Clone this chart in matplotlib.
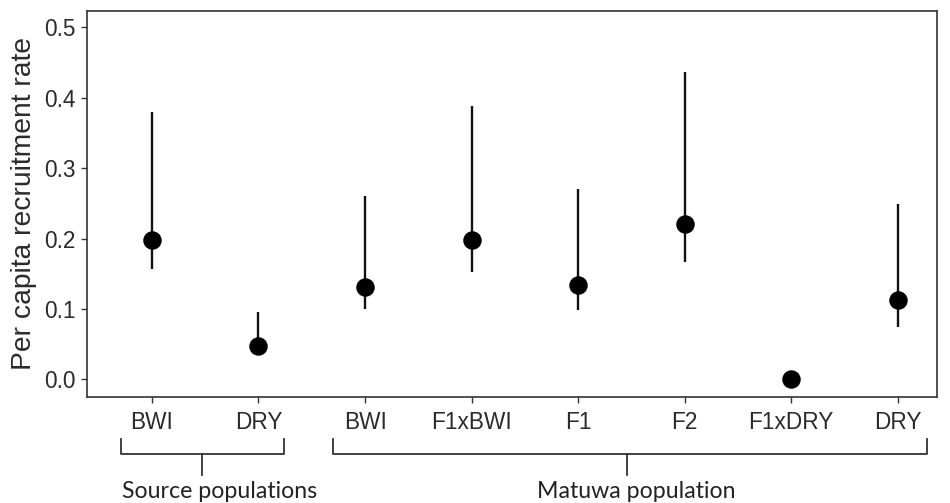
import matplotlib
matplotlib.use("Agg")
import matplotlib.pyplot as plt
from matplotlib.transforms import blended_transform_factory

categories = ["BWI", "DRY", "BWI", "F1xBWI", "F1", "F2", "F1xDRY", "DRY"]
rate = [0.198, 0.048, 0.131, 0.198, 0.134, 0.220, 0.0, 0.113]
lower = [0.157, 0.040, 0.100, 0.152, 0.099, 0.166, 0.0, 0.074]
upper = [0.380, 0.096, 0.261, 0.388, 0.270, 0.436, 0.0, 0.249]
y_ticks = [0.0, 0.1, 0.2, 0.3, 0.4, 0.5]
groups = ["Source populations", "Matuwa population"]

plt.rcParams['font.family'] = ['Liberation Sans', 'DejaVu Sans']

fig = plt.figure(figsize=(9.5, 5.03), dpi=100)
ax = fig.add_axes([87/950, 1-397/503, (937-87)/950, (397-11)/503])

x = list(range(1, len(categories) + 1))
ax.vlines(x, lower, upper, color='#111111', lw=1.7, zorder=2)
ax.plot(x, rate, 'o', color='black', ms=12.3, zorder=3)

ax.set_xlim(0.39, 8.37)
ax.set_ylim(-0.025, 0.523)
ax.set_xticks(x)
ax.set_xticklabels(categories)
ax.set_yticks(y_ticks)
ax.set_yticklabels([f"{v:.1f}" for v in y_ticks])
ax.tick_params(labelsize=16.3, colors='#333333', length=4, width=1,
               labelcolor='#2b2b2b')
ax.tick_params(axis='y', pad=4)
ax.tick_params(axis='x', pad=6)
for s in ax.spines.values():
    s.set_color('#333333')
    s.set_linewidth(1.2)
ax.set_ylabel("Per capita recruitment rate", fontsize=20.3, color='#2b2b2b', labelpad=5)

# group brackets below the axis
tr = blended_transform_factory(ax.transData, fig.transFigure)
def fy(p):
    return 1 - p / 503

brackets = [(0.71, 2.24, 1.47, 1.63), (2.70, 8.28, 5.46, 5.55)]
for (x0, x1, xm, xt), label in zip(brackets, groups):
    ytop, ymid, ybot = fy(439), fy(454), fy(475)
    ax.plot([x0, x0, x1, x1], [ytop, ymid, ymid, ytop], color='#333333', lw=1.3,
            transform=tr, clip_on=False)
    ax.plot([xm, xm], [ymid, ybot], color='#333333', lw=1.3,
            transform=tr, clip_on=False)
    ax.text(xt, fy(491), label, transform=tr, ha='center', va='center',
            fontsize=16.7, family=['Lato', 'DejaVu Sans'], color='#222222')

fig.savefig("out.png", dpi=100)
